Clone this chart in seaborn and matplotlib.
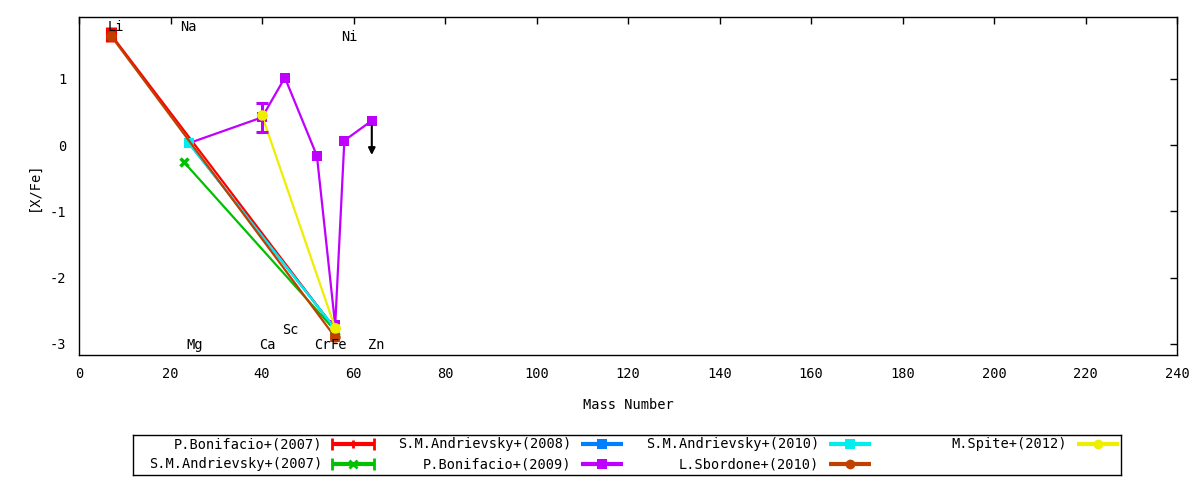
import matplotlib
matplotlib.use("Agg")
import matplotlib.pyplot as plt
import seaborn as sns
import pandas as pd

# element mass numbers
LI, NA, MG, CA, SC, CR, FE, NI, ZN = 7, 23, 24, 40, 45, 52, 56, 58, 64

# series data: mass number and [X/Fe]
bon07_x = [LI, FE]
bon07_y = [1.67, -2.78]
and07_x = [NA, FE]
and07_y = [-0.26, -2.80]
and08_x = [MG, FE]
and08_y = [0.03, -2.77]
bon09_x = [MG, CA, SC, CR, FE, NI, ZN]
bon09_y = [0.03, 0.42, 1.02, -0.16, -2.72, 0.07, 0.37]
and10_x = [MG, FE]
and10_y = [0.03, -2.77]
sbo10_x = [LI, FE]
sbo10_y = [1.65, -2.90]
spi12_x = [CA, FE]
spi12_y = [0.45, -2.76]

series_names = ["P.Bonifacio+(2007)", "S.M.Andrievsky+(2007)", "S.M.Andrievsky+(2008)",
                "P.Bonifacio+(2009)", "S.M.Andrievsky+(2010)", "L.Sbordone+(2010)",
                "M.Spite+(2012)"]
series_x = [bon07_x, and07_x, and08_x, bon09_x, and10_x, sbo10_x, spi12_x]
series_y = [bon07_y, and07_y, and08_y, bon09_y, and10_y, sbo10_y, spi12_y]
colors = ["#ff0000", "#00c000", "#0080ff", "#c000ff", "#00eeee", "#c04000", "#eeee00"]
markers = ["s", "x", "s", "s", "s", "o", "o"]
legend_markers = ["+", "x", "s", "s", "s", "o", "o"]

# element labels (text positions)
elem_names = ["Li", "Na", "Ni", "Mg", "Ca", "Cr", "Fe", "Zn", "Sc"]
elem_x = [6.3, 22.1, 57.3, 23.4, 39.3, 51.4, 54.9, 63.1, 44.4]
elem_y = [1.79, 1.79, 1.64, -3.02, -3.02, -3.02, -3.02, -3.02, -2.79]

sns.set_theme(style="white")
plt.rcParams['font.family'] = ['DejaVu Sans Mono']
plt.rcParams['font.size'] = 9.8
plt.rcParams['axes.unicode_minus'] = False
plt.rcParams['text.color'] = 'black'
plt.rcParams['axes.labelcolor'] = 'black'

FS = 9.8

fig = plt.figure(figsize=(12, 4.8), dpi=100)
ax = fig.add_axes([79/1200, 1-355/480, (1177-79)/1200, (355-17)/480])

for name, xs, ys, c, m in zip(series_names, series_x, series_y, colors, markers):
    df = pd.DataFrame({"mass": xs, "xfe": ys})
    sns.lineplot(data=df, x="mass", y="xfe", sort=False, color=c, linewidth=1.6,
                 marker=m, markersize=7.5 if m != "x" else 6,
                 markeredgewidth=2.5 if m == "x" else 0,
                 markeredgecolor=c, ax=ax)

# error bars
ax.errorbar([LI], [1.67], yerr=[0.11], fmt="none", ecolor="#ff0000", elinewidth=8, capsize=0, zorder=1.5)
ax.errorbar([CA], [0.42], yerr=[0.22], fmt="none", ecolor="#c000ff", elinewidth=2.2,
            capsize=4, capthick=2.2)
ax.errorbar([FE], [-2.90], yerr=[0.07], fmt="none", ecolor="#c04000", elinewidth=7, capsize=0)
ax.plot([LI], [1.65], marker="o", color="#c04000", markersize=7.5, markeredgewidth=0)
ax.plot([CA], [0.45], marker="o", color="#eeee00", markersize=7.5, markeredgewidth=0)
ax.plot([FE], [-2.76], marker="o", color="#eeee00", markersize=7.5, markeredgewidth=0)

# upper limit arrow for Zn
ax.annotate("", xy=(ZN, -0.19), xytext=(ZN, 0.33),
            arrowprops=dict(arrowstyle="-|>", color="black", lw=1.5, mutation_scale=10))

for t, x, y in zip(elem_names, elem_x, elem_y):
    ax.text(x, y, t, ha="left", va="center", fontsize=FS)

ax.set_xlim(0, 240)
ax.set_ylim(-3.167, 1.935)
ax.set_xticks(range(0, 241, 20))
ax.set_yticks([-3, -2, -1, 0, 1])
ax.tick_params(direction="in", length=5, width=1, top=True, right=True, pad=9,
               labelsize=FS, colors="black")
for s in ax.spines.values():
    s.set_color("black")
    s.set_linewidth(1)
ax.set_xlabel("Mass Number", labelpad=12, fontsize=FS)
ax.set_ylabel("[X/Fe]", labelpad=7, fontsize=FS)
ax.grid(False)

# legend drawn in its own box, gnuplot style
lax = fig.add_axes([133/1200, 1-475/480, (1121-133)/1200, 40/480])
lax.set_xlim(133, 1121)
lax.set_ylim(475, 435)
lax.set_xticks([])
lax.set_yticks([])
for s in lax.spines.values():
    s.set_color("black")
    s.set_linewidth(1)
text_right = [322, 571, 819, 1067]
rows = [444, 464]
for i, (name, c, m) in enumerate(zip(series_names, colors, legend_markers)):
    col, row = divmod(i, 2)
    lax.text(text_right[col], rows[row], name, ha="right", va="center", fontsize=FS)
    lax.errorbar([text_right[col] + 31], [rows[row]], xerr=[21], fmt=m, color=c,
                 markersize=7 if m not in "+x" else 6,
                 markeredgewidth=2 if m in "+x" else 0,
                 elinewidth=3, capsize=4, capthick=2)

fig.savefig("out.png", dpi=100)
